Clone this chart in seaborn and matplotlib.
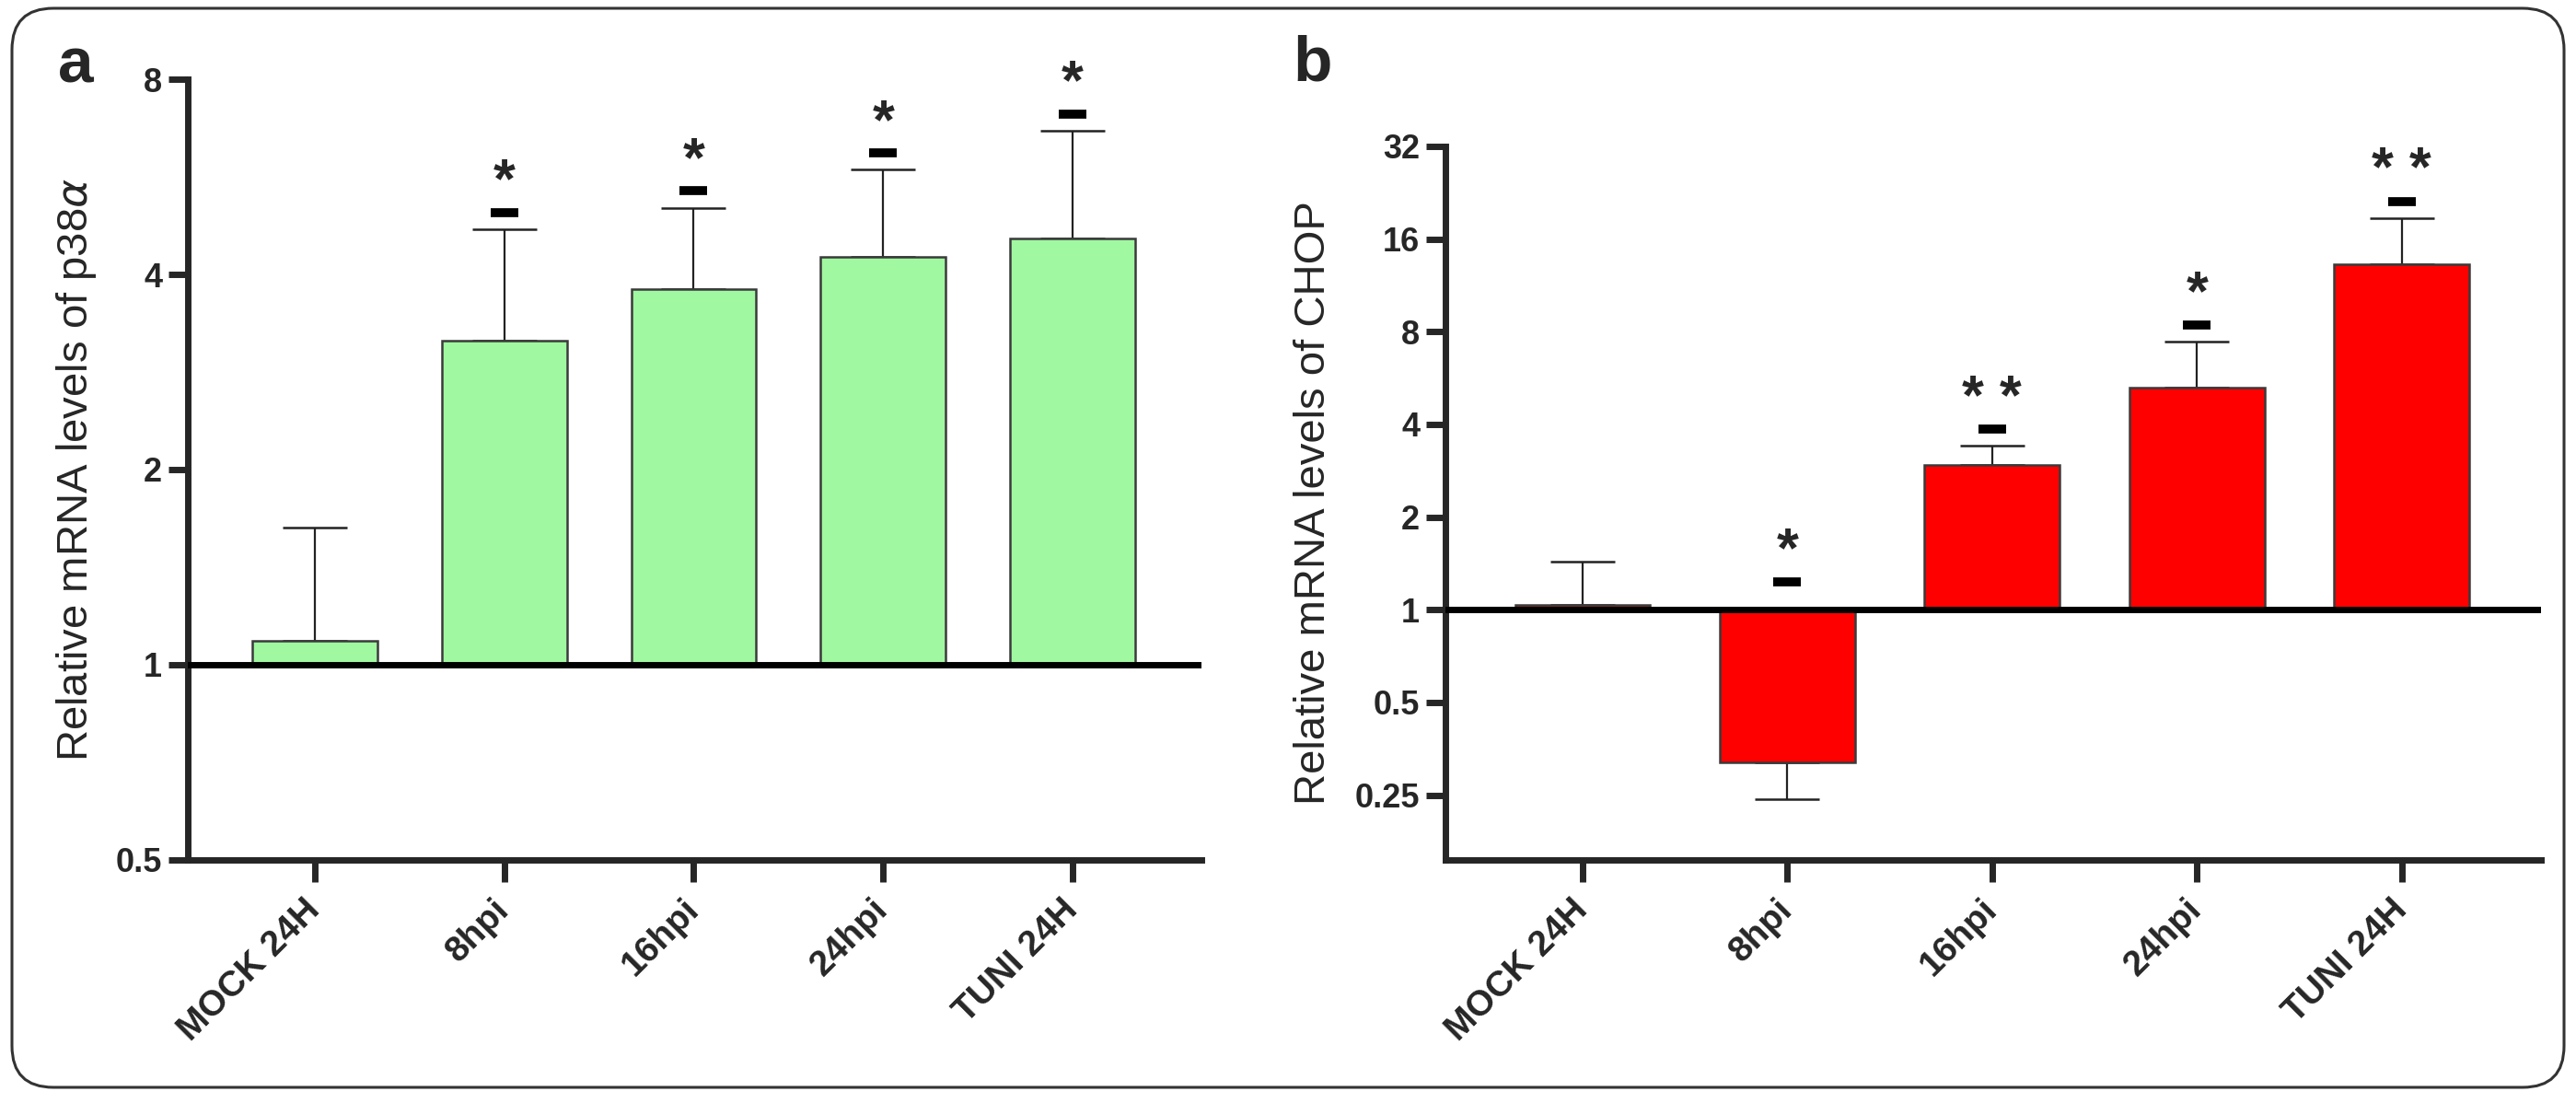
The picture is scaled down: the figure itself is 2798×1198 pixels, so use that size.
import numpy as np
import matplotlib
matplotlib.use('Agg')
import matplotlib.pyplot as plt
import seaborn as sns
from matplotlib.patches import FancyBboxPatch
from matplotlib.transforms import IdentityTransform, offset_copy
from matplotlib.ticker import FuncFormatter, FixedLocator

sns.set_theme(style='ticks')
plt.rcParams['font.family'] = ['Liberation Sans', 'DejaVu Sans']
plt.rcParams['mathtext.fontset'] = 'dejavusans'

# data (relative expression, fold change vs mock)
categories = ['MOCK 24H', '8hpi', '16hpi', '24hpi', 'TUNI 24H']
p38_mean = [1.09, 3.16, 3.80, 4.25, 4.54]
p38_err = [1.63, 4.70, 5.07, 5.80, 6.66]
p38_sig = ['', '*', '*', '*', '*']
chop_mean = [1.04, 0.319, 2.96, 5.25, 13.25]
chop_err = [1.43, 0.243, 3.41, 7.43, 18.75]
chop_sig = ['', '*', '* *', '*', '* *']

p38_ticks = [0.5, 1, 2, 4, 8]
chop_ticks = [0.25, 0.5, 1, 2, 4, 8, 16, 32]

fig = plt.figure(figsize=(27.98, 11.98), dpi=100)

# rounded frame around both panels
frame = FancyBboxPatch((13, 17), 2772, 1172, boxstyle='round,pad=0,rounding_size=45',
                       transform=IdentityTransform(), fill=False, lw=2.2, ec='#333333')
fig.patches.append(frame)

ax1 = fig.add_axes([0.0729, 0.2204, 0.3935, 0.7078])
ax2 = fig.add_axes([0.5611, 0.2204, 0.4253, 0.6469])


def draw_panel(ax, mean, err, sig, ticks, color, ylo, ylabel, lab_x):
    lm = np.log2(mean)
    le = np.log2(err)
    sns.barplot(x=categories, y=lm, color=color, width=0.66, edgecolor='#3a3a3a',
                linewidth=1.8, saturation=1, errorbar=None, ax=ax, zorder=2)
    lower = np.where(le < lm, lm - le, 0)
    upper = np.where(le > lm, le - lm, 0)
    ax.errorbar(range(len(categories)), lm, yerr=[lower, upper], fmt='none',
                ecolor='#222222', elinewidth=1.6, capsize=25, capthick=1.8, zorder=1)
    ax.axhline(0, color='black', lw=5, zorder=3)

    # significance marks: dash + stars above each bar
    for i, s in enumerate(sig):
        if not s:
            continue
        base = max(le[i], 0)
        off = 13 if le[i] > 0 else 22
        tr = offset_copy(ax.transData, fig=fig, y=off, units='points')
        ax.plot([i], [base], marker='_', ms=21, mew=7, color='black', transform=tr,
                clip_on=False, zorder=4)
        ax.annotate(s, (i, base), xytext=(0, off + 23), textcoords='offset points',
                    ha='center', va='center', fontsize=44, fontweight='bold',
                    annotation_clip=False)

    ax.set_xlim(-0.67, 4.68)
    ax.set_ylim(ylo, np.log2(ticks[-1]))
    ax.yaxis.set_major_locator(FixedLocator(np.log2(ticks)))
    ax.yaxis.set_major_formatter(FuncFormatter(lambda v, p: f'{2 ** v:g}'))
    ax.set_xlabel('')
    ax.set_ylabel(ylabel, fontsize=34)
    ax.yaxis.set_label_coords(lab_x, 0.5)
    sns.despine(ax=ax)
    for sp in ['left', 'bottom']:
        ax.spines[sp].set_linewidth(5)
    ax.tick_params(axis='y', length=15, width=5, pad=5, labelsize=26)
    ax.tick_params(axis='x', length=17, width=5, pad=18, labelsize=28)
    for t in ax.get_yticklabels() + ax.get_xticklabels():
        t.set_fontweight('bold')
    for t in ax.get_xticklabels():
        t.set_rotation(45)
        t.set_ha('right')
        t.set_va('center')
        t.set_rotation_mode('anchor')


draw_panel(ax1, p38_mean, p38_err, p38_sig, p38_ticks, '#a0f8a0', -1,
           r'Relative mRNA levels of p38$\alpha$', -0.088)
draw_panel(ax2, chop_mean, chop_err, chop_sig, chop_ticks, '#ff0000', -2.70,
           'Relative mRNA levels of CHOP', -0.102)

fig.text(63 / 2798, 1 - 90 / 1198, 'a', fontsize=50, fontweight='bold', va='baseline')
fig.text(1404 / 2798, 1 - 88 / 1198, 'b', fontsize=50, fontweight='bold', va='baseline')

fig.savefig('out.png', dpi=100)
